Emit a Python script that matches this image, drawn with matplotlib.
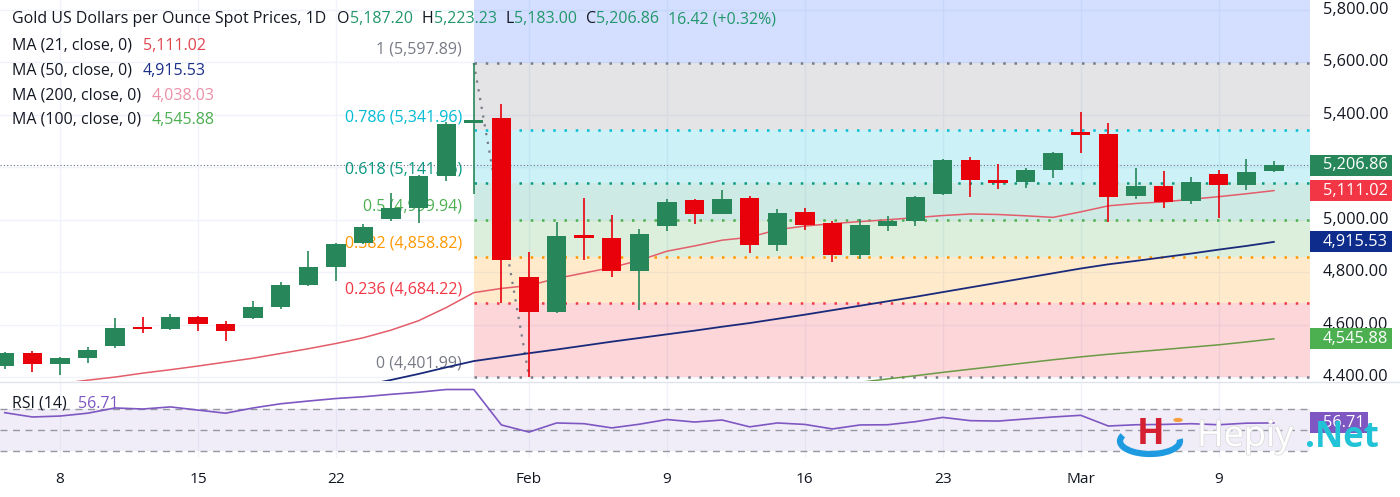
import numpy as np
import pandas as pd
import matplotlib
matplotlib.use("Agg")
import matplotlib.pyplot as plt
from matplotlib.patches import Rectangle, Arc, Circle
from matplotlib.transforms import Bbox, blended_transform_factory
import matplotlib.patheffects as pe

plt.rcParams['font.family'] = ['Open Sans', 'DejaVu Sans']

# ---------------------------------------------------------------- data
dates = pd.bdate_range('2026-01-06', '2026-03-11')

opens = [4442, 4491, 4449, 4472, 4518, 4590, 4582, 4628, 4601, 4624,
         4666, 4753, 4818, 4912, 5004, 5046, 5167, 5370, 5387, 4783,
         4647, 4940, 4931, 4806, 4977, 5076, 5023, 5084, 4905, 5030,
         4989, 4867, 4977, 4996, 5099, 5228, 5150, 5144, 5190, 5334,
         5327, 5091, 5129, 5072, 5175, 5133, 5187.20]
highs = [4496, 4499, 4475, 4514, 4624, 4628, 4639, 4632, 4613, 4689,
         4761, 4882, 4912, 4985, 5103, 5170, 5372, 5597.89, 5442, 4878,
         4992, 5084, 5019, 4966, 5080, 5078, 5114, 5091, 5042, 5046,
         4996, 5004, 5015, 5091, 5232, 5239, 5213, 5197, 5257, 5410,
         5368, 5197, 5186, 5163, 5190, 5232, 5223.23]
lows = [4430, 4419, 4408, 4453, 4510, 4567, 4578, 4575, 4537, 4620,
        4658, 4748, 4768, 4908, 4996, 4989, 5148, 5100, 4681, 4402,
        4643, 4848, 4783, 4654, 4958, 4985, 5020, 4875, 4882, 4962,
        4837, 4852, 4958, 4977, 5095, 5087, 5118, 5122, 5160, 5254,
        4992, 5080, 5046, 5061, 5008, 5114, 5183.00]
closes = [4491, 4449, 4472, 4502, 4586, 4582, 4628, 4601, 4575, 4666,
          4753, 4818, 4909, 4973, 5046, 5167, 5365, 5378, 4848, 4647,
          4939, 4933, 4806, 4947, 5068, 5023, 5080, 4905, 5027, 4981,
          4867, 4981, 4996, 5087, 5228, 5152, 5140, 5190, 5254, 5323,
          5087, 5129, 5068, 5144, 5133, 5182, 5206.86]

ma21 = [4350, 4362, 4375, 4388, 4400, 4415, 4428, 4442, 4457, 4472,
        4490, 4508, 4528, 4550, 4579, 4615, 4665, 4722, 4738, 4749,
        4776, 4797, 4818, 4845, 4880, 4900, 4922, 4933, 4962, 4976,
        4985, 4993, 5000, 5008, 5016, 5022, 5020, 5015, 5009, 5030,
        5053, 5062, 5068, 5078, 5088, 5099, 5111.02]
ma50 = [np.nan] * 13 + [
        4368, 4389, 4412, 4437, 4461, 4476, 4491, 4505, 4520, 4535,
        4549, 4563, 4577, 4592, 4606, 4622, 4638, 4655, 4672, 4689,
        4706, 4724, 4742, 4760, 4778, 4796, 4814, 4830, 4843, 4857,
        4871, 4886, 4900, 4915.53]
ma100 = [np.nan] * 31 + [
         4380, 4393, 4405, 4418, 4430, 4442, 4454, 4466, 4477, 4487,
         4496, 4505, 4514, 4523, 4534, 4545.88]

rsi = [66.5, 62.4, 63.3, 66, 71, 70, 72, 69, 66, 71,
       75, 77.6, 80, 81.7, 84, 86, 88.6, 88.6, 54.8, 48,
       56.7, 56, 52, 55.5, 60, 57.6, 59.5, 53, 56.7, 55.3,
       51, 54.8, 55, 57.9, 62, 58.9, 58.5, 60.5, 62.4, 64,
       53.8, 55, 55.3, 56, 55, 56.5, 56.71]

fib_ratios = [1.618, 1, 0.786, 0.618, 0.5, 0.382, 0.236, 0]
fib_levels = [6337.0, 5597.89, 5341.96, 5141.06, 4999.94, 4858.82, 4684.22, 4401.99]
fib_colors = ['#2962ff', '#787b86', '#00bcd4', '#089981', '#4caf50',
              '#ff9800', '#f23645', '#787b86']

price_ticks = [4400, 4600, 4800, 5000, 5200, 5400, 5600, 5800]
tick_idx = [2, 7, 12, 19, 24, 29, 34, 39, 44]
tick_labels = ['8', '15', '22', 'Feb', '9', '16', '23', 'Mar', '9']

GREEN = '#27875a'
RED = '#e8000b'
TXT = '#131722'

# ---------------------------------------------------------------- figure
W, H = 1400, 497
fig = plt.figure(figsize=(W / 100, H / 100), dpi=100)
ax = fig.add_axes([0, 1 - 381 / H, 1310 / W, 381 / H])
ax_rsi = fig.add_axes([0, 1 - 458 / H, 1310 / W, 75 / H])
renderer = fig.canvas.get_renderer()


def fit(txt, target_px, base=10, **kw):
    # font size that makes txt about target_px wide
    t = fig.text(0, 0, txt, fontsize=base, **kw)
    w = t.get_window_extent(renderer).width
    t.remove()
    return base * target_px / w


FS = fit("Gold US Dollars per Ounce Spot Prices, 1D", 314)
FS_AX = fit("5,800.00", 65)
FS_DATE = fit("Feb", 26)

x = np.arange(len(dates))
XL = (-0.174, 47.31)
YL = (4385, 5838)
RL = (23.3, 94.8)

for a in (ax, ax_rsi):
    a.set_xlim(*XL)
    for s in a.spines.values():
        s.set_visible(False)
    for t in tick_idx:
        a.axvline(t, color='#f0f3fa', lw=1, zorder=0)
ax.set_ylim(*YL)
ax_rsi.set_ylim(*RL)
ax.set_xticks([])
ax.set_yticks([])
ax_rsi.set_yticks([])
for p in price_ticks:
    ax.axhline(p, color='#f0f3fa', lw=1, zorder=0)

# fib retracement
start = 17
for k in range(1, len(fib_levels)):
    ax.fill_between([start, XL[1]], fib_levels[k], fib_levels[k - 1],
                    color=fib_colors[k - 1], alpha=0.2, lw=0, zorder=0.5)
for lv, r, c in zip(fib_levels, fib_ratios, fib_colors):
    if lv > YL[1]:
        continue
    ax.plot([start, XL[1]], [lv, lv], color=c, lw=1.8,
            ls=(0, (1, 3.5)), zorder=1)
    ax.annotate(f"{r:g} ({lv:,.2f})", xy=(start, lv), xytext=(-12, 5),
                textcoords='offset pixels', ha='right', va='bottom',
                color=c, fontsize=FS, zorder=1.5)
ax.plot([start, start + 2], [fib_levels[1], fib_levels[-1]], color='#787b86',
        lw=1.6, ls=(0, (1, 3)), zorder=1)

# current price line
ax.axhline(closes[-1], color='#6b6f7a', lw=0.8, ls=(0, (1, 2)), zorder=2.5)

# moving averages
ax.plot(x, ma21, color='#e35d6a', lw=1.1, zorder=2)
ax.plot(x, ma50, color='#1a2a7a', lw=1.3, zorder=2)
ax.plot(x, ma100, color='#6a9a45', lw=1.1, zorder=2)

# candles
for i in x:
    o, h, l, c = opens[i], highs[i], lows[i], closes[i]
    col = GREEN if c >= o else RED
    ax.vlines(i, l, h, color=col, lw=1.2, zorder=3)
    body = abs(c - o)
    bottom = min(o, c) if body >= 9 else (o + c) / 2 - 4.5
    ax.bar(i, max(body, 9), bottom=bottom, width=0.7, color=col, lw=0, zorder=3.2)

# rsi panel
ax_rsi.axhspan(30, 70, color='#7e57c2', alpha=0.1, lw=0, zorder=0.5)
for lv in (70, 50, 30):
    ax_rsi.axhline(lv, color='#9598a1', lw=1, ls=(0, (5, 4)), zorder=1)
ax_rsi.plot(x, rsi, color='#7e57c2', lw=1.2, zorder=2)
ax_rsi.set_xticks(tick_idx)
ax_rsi.set_xticklabels(tick_labels, fontsize=FS_DATE, color=TXT)
ax_rsi.tick_params(axis='x', length=0, pad=10)

# separator between panels
fig.add_artist(plt.Line2D([0, 1], [1 - 382 / H, 1 - 382 / H],
                          transform=fig.transFigure, color='#e0e3eb', lw=1))

# price scale
tr = blended_transform_factory(fig.transFigure, ax.transData)
clip = Bbox.from_extents(1310, H - 381, W, H)
for p in price_ticks:
    t = fig.text(1323 / W, p, f"{p:,.2f}", transform=tr, va='center',
                 ha='left', fontsize=FS_AX, color=TXT, zorder=4)
    t.set_clip_box(clip)
    t.set_clip_on(True)


def tag(axis, value, label, color, width, ylim):
    trx = blended_transform_factory(fig.transFigure, axis.transData)
    hgt = 21 * (ylim[1] - ylim[0]) / (axis.get_position().height * H)
    fig.add_artist(Rectangle((1310 / W, value - hgt / 2), width / W, hgt,
                             transform=trx, color=color, lw=0, zorder=5))
    fig.text(1323 / W, value, label, transform=trx, va='center', ha='left',
             fontsize=FS_AX, color='white', zorder=6)


tag(ax, closes[-1], f"{closes[-1]:,.2f}", GREEN, 82, YL)
tag(ax, ma21[-1], f"{ma21[-1]:,.2f}", '#f23645', 82, YL)
tag(ax, ma50[-1], f"{ma50[-1]:,.2f}", '#0d2c8c', 82, YL)
tag(ax, ma100[-1], f"{ma100[-1]:,.2f}", '#4caf50', 82, YL)
tag(ax_rsi, rsi[-1], f"{rsi[-1]:.2f}", '#7e57c2', 58, RL)


def row(x0, y0, parts):
    xx = x0
    for txt, col, gap in parts:
        t = fig.text(xx / W, 1 - y0 / H, txt, color=col, fontsize=FS,
                     va='center', ha='left', zorder=7)
        xx += t.get_window_extent(renderer).width + gap


VAL = '#22976b'
row(12, 19, [("Gold US Dollars per Ounce Spot Prices, 1D", TXT, 11),
             ("O", TXT, 0), ("5,187.20", VAL, 9), ("H", TXT, 0),
             ("5,223.23", VAL, 9), ("L", TXT, 0), ("5,183.00", VAL, 9),
             ("C", TXT, 0), ("5,206.86", VAL, 9), ("16.42 (+0.32%)", VAL, 0)])
row(12, 46, [("MA (21, close, 0)", TXT, 11), ("5,111.02", '#e0454f', 0)])
row(12, 71, [("MA (50, close, 0)", TXT, 11), ("4,915.53", '#1a2f8a', 0)])
row(12, 96, [("MA (200, close, 0)", TXT, 11), ("4,038.03", '#ec8fa6', 0)])
row(12, 120, [("MA (100, close, 0)", TXT, 11), ("4,545.88", '#4caf50', 0)])
row(12, 404, [("RSI (14)", TXT, 11), ("56.71", '#7e57c2', 0)])

# watermark
fig.add_artist(Arc((1150 / W, 1 - 441 / H), 60 / W, 26 / H, theta1=150,
                   theta2=370, transform=fig.transFigure, color='#1e9be0',
                   lw=4.5, zorder=8))
fig.text(1137 / W, 1 - 435 / H, "H", fontsize=26, fontweight='bold',
         color='#d42030', va='center', ha='left', zorder=8)
fig.add_artist(Circle((1178 / W, 1 - 420 / H), 4 / W, transform=fig.transFigure,
                      color='#f5a040', zorder=8))
fig.text(1197 / W, 1 - 437 / H, "Hepiy", fontsize=26, color='white',
         va='center', ha='left', zorder=8,
         path_effects=[pe.withStroke(linewidth=1.2, foreground='#dcdcdc')])
fig.text(1305 / W, 1 - 438 / H, ".Net", fontsize=25, fontweight='bold',
         color='#22c3d6', va='center', ha='left', zorder=8)

fig.savefig('out.png', dpi=100)
